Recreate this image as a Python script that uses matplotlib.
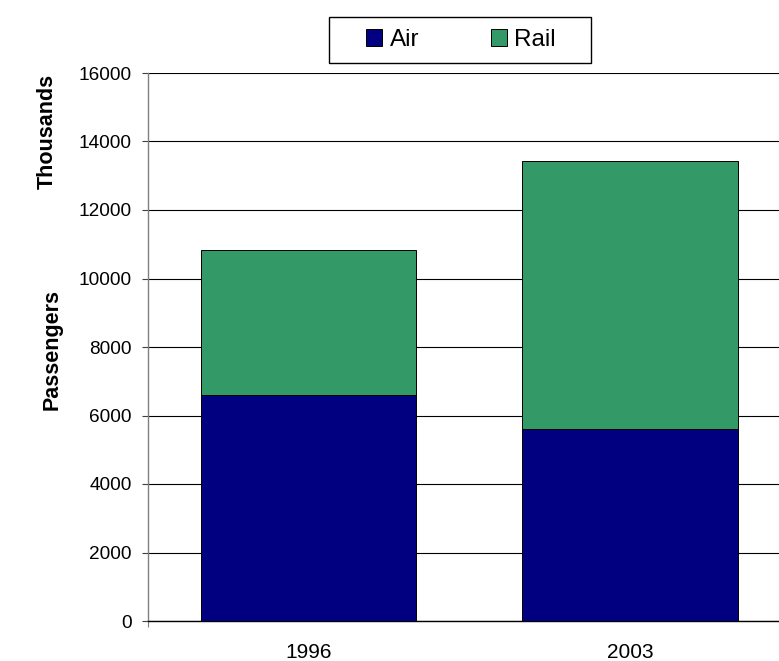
import numpy as np
import matplotlib
matplotlib.use("Agg")
import matplotlib.pyplot as plt
from matplotlib.patches import Rectangle

plt.rcParams['font.family'] = ['Liberation Sans', 'DejaVu Sans']

# Data (thousands of passengers)
years = ["1996", "2003"]
air = [6600, 5600]
rail = [4230, 7830]

air_color = "#000080"
rail_color = "#339966"

fig = plt.figure(figsize=(7.79, 6.61), dpi=100)
# axes runs slightly past the right edge of the image, like the original
ax = fig.add_axes([147.75 / 779, 1 - 621 / 661, 643 / 779, (621 - 73) / 661])

x = np.arange(len(years))
w = 0.669
ax.bar(x, air, w, color=air_color, edgecolor="black", linewidth=0.7, label="Air", zorder=3)
ax.bar(x, rail, w, bottom=air, color=rail_color, edgecolor="black", linewidth=0.7, label="Rail", zorder=3)

ax.set_xlim(-0.5, 1.5)
ax.set_ylim(0, 16000)
ax.set_yticks(np.arange(0, 16001, 2000))
ax.set_xticks(x)
ax.set_xticklabels(years)
ax.set_xticks([-0.5], minor=True)

ax.yaxis.grid(True, color="black", linewidth=0.8)
ax.set_axisbelow(True)

for s in ["top", "right"]:
    ax.spines[s].set_visible(False)
ax.spines["left"].set_color("#808080")
ax.spines["left"].set_linewidth(1.0)
ax.spines["bottom"].set_color("black")
ax.spines["bottom"].set_linewidth(1.0)

ax.tick_params(axis="y", direction="out", length=4.5, width=0.8, color="#404040",
               labelsize=13.7, pad=7)
ax.tick_params(axis="x", which="major", length=0, labelsize=15, pad=16)
ax.tick_params(axis="x", which="minor", direction="out", length=4.5, width=0.8, color="#808080")

fig.text(52 / 779, 1 - 350 / 661, "Passengers", rotation=90, ha="center", va="center",
         fontsize=15.5, fontweight="bold")
fig.text(47 / 779, 1 - 131 / 661, "Thousands", rotation=90, ha="center", va="center",
         fontsize=15.5, fontweight="bold")

# legend without its own frame; the box is drawn separately to get the wide padding
leg = fig.legend(loc="center", bbox_to_anchor=(461 / 779, 1 - 40 / 661), ncol=2,
                 fontsize=17.5, frameon=False,
                 handlelength=0.66, handleheight=0.66, handletextpad=0.29,
                 columnspacing=2.96, borderpad=0.2, borderaxespad=0)
fig.patches.append(Rectangle((329 / 779, 1 - 63 / 661), 262 / 779, 46 / 661,
                             transform=fig.transFigure, fill=False,
                             edgecolor="black", linewidth=1.0))

fig.savefig("out.png", dpi=100)
